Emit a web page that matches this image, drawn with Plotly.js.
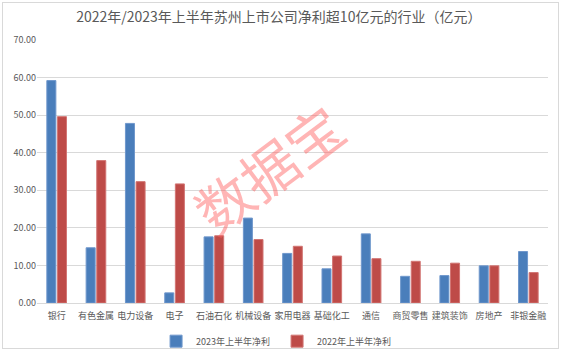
<!DOCTYPE html>
<html>
<head>
<meta charset="utf-8">
<script src="https://cdn.plot.ly/plotly-3.0.1.min.js"></script>
<style>
html,body{margin:0;padding:0;background:#fff;}
#wrap{position:relative;width:561px;height:351px;}
#frame{position:absolute;left:2px;top:2px;width:555px;height:345px;border:1px solid #d9d9d9;pointer-events:none;}
</style>
</head>
<body>
<div id="wrap"><div id="chart" style="width:561px;height:351px;"></div><div id="frame"></div></div>
<script>
const categories = ["银行","有色金属","电力设备","电子","石油石化","机械设备","家用电器","基础化工","通信","商贸零售","建筑装饰","房地产","非银金融"];
const profit2023 = [59.2, 14.7, 47.8, 2.7, 17.6, 22.6, 13.2, 9.1, 18.4, 7.1, 7.3, 9.9, 13.7];
const profit2022 = [49.6, 37.9, 32.3, 31.7, 17.9, 16.9, 15.1, 12.5, 11.8, 11.1, 10.6, 9.9, 8.1];
const seriesNames = ["2023年上半年净利", "2022年上半年净利"];
const titleText = "2022年/2023年上半年苏州上市公司净利超10亿元的行业（亿元）";
const watermark = "数据宝";

const font = "'Noto Sans CJK SC', 'Microsoft YaHei', sans-serif";
const data = [
  {type:'bar', name:seriesNames[0], x:categories, y:profit2023,
   marker:{color:'#4a7ebb', line:{color:'#6f97cc', width:1}}},
  {type:'bar', name:seriesNames[1], x:categories, y:profit2022,
   marker:{color:'#be4b48', line:{color:'#d27573', width:1}}}
];
const layout = {
  width:561, height:351,
  margin:{l:37, r:13, t:40, b:48, autoexpand:false},
  paper_bgcolor:'#fff', plot_bgcolor:'#fff',
  font:{family:font, color:'#595959'},
  title:{text:titleText, font:{size:14, color:'#595959', family:font}, x:0.497, xanchor:'center', y:0.951, yanchor:'middle'},
  barmode:'group', bargap:0.46, bargroupgap:0.15,
  showlegend:true,
  legend:{orientation:'h', x:0.233, xanchor:'left', y:-0.09, yanchor:'top', font:{size:9, color:'#595959'},
    itemwidth:30, entrywidth:76, entrywidthmode:'pixels', traceorder:'normal'},
  xaxis:{type:'category', tickangle:0, automargin:false, ticklabelstandoff:4, tickfont:{size:9, color:'#595959'}, showline:true, linecolor:'#d9d9d9', ticks:'', showgrid:false},
  yaxis:{range:[0,70], dtick:10, tickformat:'.2f', automargin:false, tickfont:{size:9, color:'#595959'}, gridcolor:'#d9d9d9', zeroline:false, showline:false, ticks:''},
  annotations:[{text:watermark, xref:'paper', yref:'paper', x:0.452, y:0.515, showarrow:false, textangle:-37,
    font:{size:56, color:'rgba(255,90,90,0.45)', family:font}}]
};
Plotly.newPlot('chart', data, layout, {displayModeBar:false, staticPlot:true});
</script>
</body>
</html>
